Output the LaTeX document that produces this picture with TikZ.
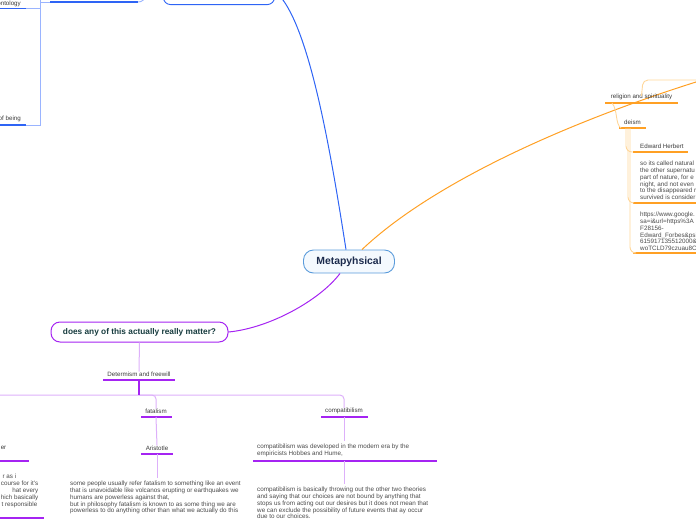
\documentclass[tikz,border=0pt]{standalone}
\usepackage{fontspec}
\setmainfont{Liberation Sans}
\definecolor{mblue}{HTML}{2E64F5}
\definecolor{lblue}{HTML}{9AB4FF}
\definecolor{morange}{HTML}{FFA024}
\definecolor{lorange}{HTML}{FFD699}
\definecolor{mpurple}{HTML}{A524F2}
\definecolor{lpurple}{HTML}{DDB0FA}
\definecolor{metab}{HTML}{5A9BDB}
\definecolor{metaf}{HTML}{F4F9FE}
\definecolor{navy}{HTML}{1C2B4D}
\definecolor{dteal}{HTML}{173C3F}
\definecolor{labtxt}{HTML}{3A3A3A}
\definecolor{partxt}{HTML}{4A4A4A}
\begin{document}
\begin{tikzpicture}[x=1pt,y=-1pt,
  lab/.style={font=\fontsize{6.2}{6.8}\selectfont, text=labtxt, inner sep=0pt},
  para/.style={font=\fontsize{6.3}{6.8}\selectfont, text=partxt, inner sep=0pt, align=left, anchor=north west},
  ulp/.style={mpurple, line width=1.3pt},
  ulo/.style={morange, line width=1.2pt},
  ulb/.style={mblue, line width=1.2pt},
  cp/.style={lpurple, line width=1pt},
  co/.style={lorange, line width=0.9pt},
  cb/.style={lblue, line width=0.9pt},
  metabox/.style={draw=metab, fill=metaf, line width=0.9pt, rounded corners=10pt, minimum width=91pt, minimum height=23pt, inner sep=0pt, font=\bfseries\fontsize{10.4}{11}\selectfont, text=navy},
  doesbox/.style={draw=mpurple, fill=white, line width=1pt, rounded corners=9pt, minimum width=177pt, minimum height=20pt, inner sep=0pt, font=\bfseries\fontsize{8.3}{9}\selectfont, text=dteal},
]
\useasboundingbox (0,0) rectangle (696,520);
\clip (0,0) rectangle (696,520);

% main nodes
\node[draw=mblue, line width=0.9pt, rounded corners=7pt, minimum width=111pt, minimum height=40pt, anchor=south west] (topbox) at (163,5) {};
\node[metabox] (meta) at (349,261.5) {Metapyhsical};
\node[doesbox] (does) at (139.5,332) {does any of this actually really matter?};

% main curves
\draw[mblue, line width=1pt] ([xshift=-3pt]meta.north) .. controls (332,160) and (312,40) .. (283,0) .. controls (280,-5) and (277,-12) .. (topbox.east);
\draw[morange, line width=1pt] ([xshift=13pt]meta.north) .. controls (430,185) and (560,125) .. (696,82) -- (720,75);
\draw[mpurple, line width=1pt] ([xshift=-9pt]meta.south) .. controls (320,300) and (270,328) .. (does.east);

% top-left blue branch
\node[lab, anchor=east] (onto) at (21,3.6) {ontology};
\node[lab, anchor=east] (being) at (21,119) {of being};
\coordinate (ontoU) at (26,8.5);
\coordinate (beingU) at (26,125);
\coordinate (parL) at (50,2);
\coordinate (parR) at (138,2);
\draw[ulb] (-5,8.5) -- (ontoU);
\draw[ulb] (-5,125) -- (beingU);
\draw[cb] (ontoU) -- (40,8.5);
\draw[cb] (beingU) -- (40,125) -- (40,-10);
\draw[cb] (40,2) -- (parL);
\draw[ulb] (parL) -- (parR);
\draw[cb] (parR) .. controls (142,2) and (144,0) .. (148,-6);

% determinism branch
\node[lab] (det) at (139,374) {Determism and freewill};
\coordinate (detM) at (139,380);
\draw[ulp] (103,380) -- (175,380);
\draw[cp] (does.south) -- (det.north);
\coordinate (busL) at (-20,395);
\coordinate (busM) at (139,395);

\node[lab] (fat) at (156,411) {fatalism};
\node[lab] (comp) at (344,411) {compatibilism};
\draw[cp, rounded corners=4pt] (busL) -| (comp.north);
\draw[cp, rounded corners=4pt] (busM) -| (fat.north);
\draw[mpurple, line width=1.6pt] (detM) -- (busM);

% fatalism
\coordinate (fatU) at (156,417);
\draw[ulp] (141,417) -- (172,417);
\node[lab] (ari) at (157,448) {Aristotle};
\draw[cp] (fatU) -- (ari.north);
\coordinate (ariU) at (157,454);
\draw[ulp] (141,454) -- (173,454);
\node[para] (fatpara) at (70,481) {some people usually refer fatalism to something like an event\\that is unavoidable like volcanos erupting or earthquakes we\\humans are powerless against that,\\but in philosophy fatalism is known to as some thing we are\\powerless to do anything other than what we actually do this};
\draw[cp, shorten >=3pt] (ariU) -- (ariU |- fatpara.north);

% compatibilism
\coordinate (compU) at (344,417);
\draw[ulp] (321,417) -- (368,417);
\node[para] (cpara1) at (257,443.5) {compatibilism was developed in the modern era by the\\empiricists Hobbes and Hume,};
\draw[cp, shorten >=3pt] (compU) -- (compU |- cpara1.north);
\coordinate (cp1U) at (344,461);
\draw[ulp] (253,461) -- (437,461);
\node[para] (cpara2) at (257,487) {compatibilism is basically throwing out the other two theories\\and saying that our choices are not bound by anything that\\stops us from acting out our desires but it does not mean that\\we can exclude the possibility of future events that ay occur\\due to our choices.};
\draw[cp, shorten >=3pt] (cp1U) -- (cp1U |- cpara2.north);

% left partial branch
\node[lab, anchor=east] (er) at (6.5,448) {er};
\draw[ulp] (-5,461) -- (29,461);
\node[para, anchor=north east, align=right, font=\fontsize{6.3}{7}\selectfont] (lpara) at (38.5,474) {r as i\hspace*{22pt}\\course for it's\hspace*{1pt}\\hat every\hspace*{10pt}\\hich basically\\t responsible\hspace*{1pt}};
\draw[ulp] (-5,518) -- (44,518);

% right orange branch
\node[lab] (rel) at (641.5,97) {religion and spirituality};
\coordinate (relU) at (612,103);
\draw[ulo] (605,103) -- (678,103);
\draw[co, rounded corners=5pt] ([yshift=-2pt]rel.north) -- (643,80) -- (710,80);
\node[lab] (deism) at (632.5,122) {deism};
\coordinate (deiU) at (621,128);
\draw[ulo] (619,128) -- (646,128);
\draw[co] (relU) .. controls (618,110) and (615,124) .. (deiU);

\node[lab, anchor=west] (edw) at (640,146) {Edward Herbert};
\draw[ulo] (633,152) -- (688,152);
\draw[co, rounded corners=6pt] (626,128) |- (633,152);

\node[para] (npara) at (640,161) {so its called natural\\the other supernatu\\part of nature, for e\\night, and not even\\to the disappeared r\\survived is consider};
\draw[ulo] (633,203) -- (700,203);
\draw[co, rounded corners=6pt] (628,128) |- (633,203);

\node[para] (upara) at (640,212) {https://www.google.\\sa=i\&url=https\%3A\\F28156-\\Edward\_Forbes\&psi\\615917135512000\&\\woTCLD79czuau8C};
\draw[ulo] (633,253) -- (700,253);
\draw[co, rounded corners=6pt] (630,128) |- (633,253);
\end{tikzpicture}
\end{document}
